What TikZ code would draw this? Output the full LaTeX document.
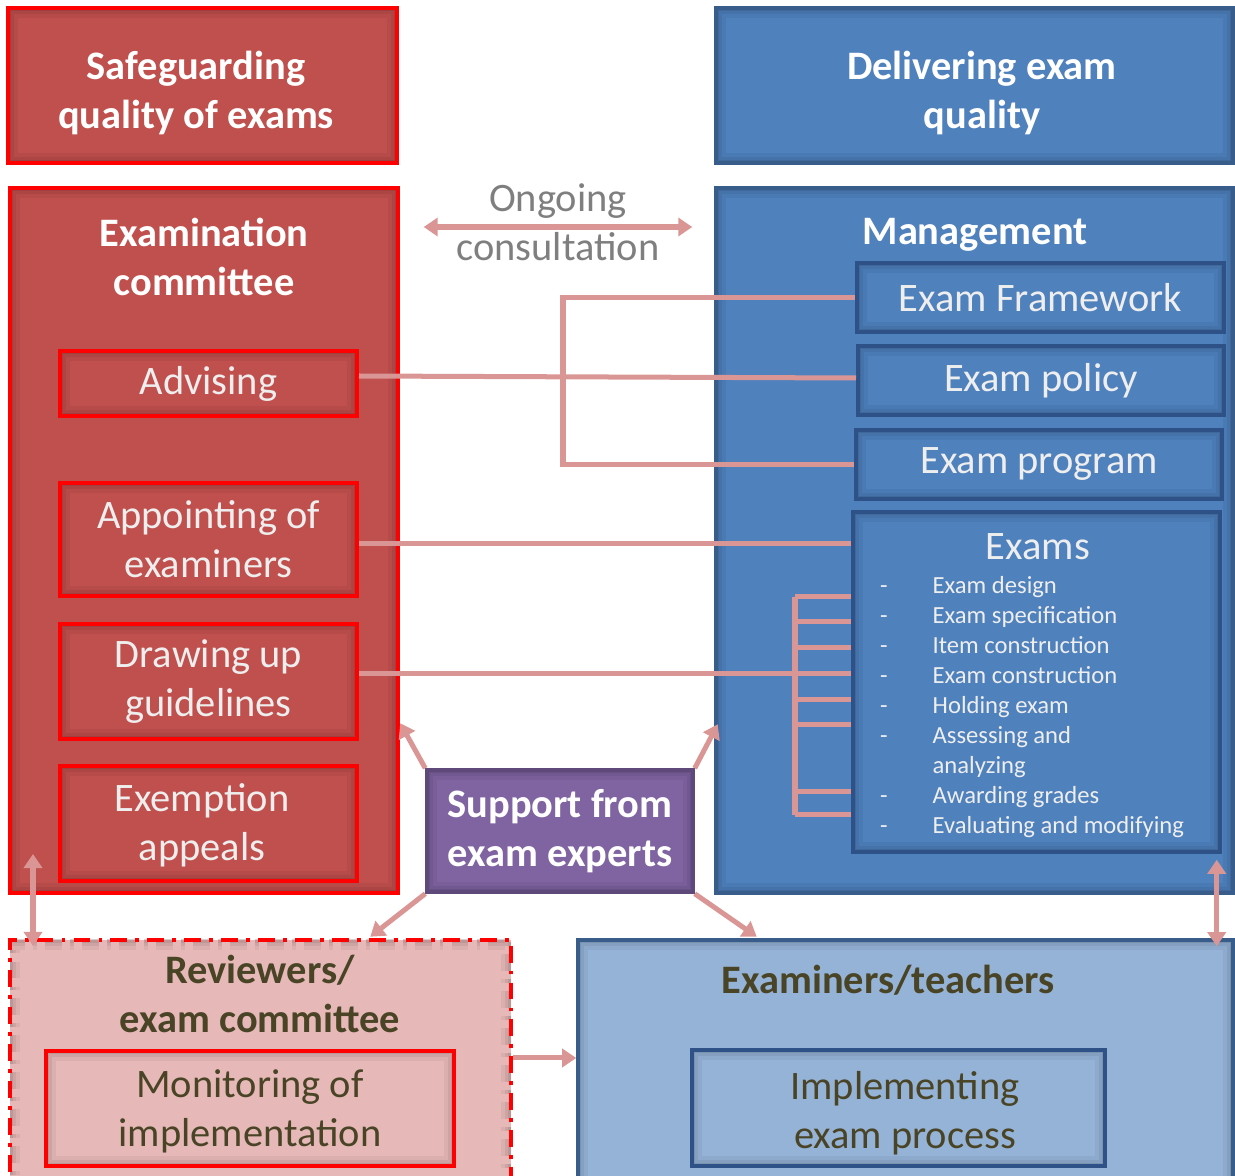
\documentclass[tikz,border=0pt]{standalone}
\usepackage{fontspec}
\setmainfont{Carlito}
\usetikzlibrary{arrows.meta}
\definecolor{redfill}{HTML}{C0504D}
\definecolor{redline}{HTML}{FF0000}
\definecolor{bluefill}{HTML}{4F81BD}
\definecolor{blueline}{HTML}{385D8A}
\definecolor{subline}{HTML}{2E5288}
\definecolor{purplefill}{HTML}{8064A2}
\definecolor{purpleline}{HTML}{5F497A}
\definecolor{pinkfill}{HTML}{E6B9B8}
\definecolor{lightblue}{HTML}{95B3D7}
\definecolor{linkc}{HTML}{D99694}
\definecolor{greytext}{HTML}{7F7F7F}
\definecolor{darktext}{HTML}{4A4426}
\definecolor{softwhite}{HTML}{EEEEEE}
\tikzset{
	wh/.style 2 args={minimum width=#1*0.01cm, minimum height=#2*0.01cm},
	glow/.style={path picture={
		\draw[black, opacity=.05, line width=0.2cm] (path picture bounding box.south west) rectangle (path picture bounding box.north east);
		\draw[black, opacity=.06, line width=0.12cm] (path picture bounding box.south west) rectangle (path picture bounding box.north east);
		\draw[black, opacity=.08, line width=0.06cm] (path picture bounding box.south west) rectangle (path picture bounding box.north east);}},
	box/.style={draw, rectangle, glow, inner sep=0pt, align=center, font=\fontsize{11.5}{14}\selectfont},
	redbox/.style={box, fill=redfill, draw=redline, line width=0.04cm},
	bluebox/.style={box, fill=bluefill, draw=blueline, line width=0.035cm},
	subblue/.style={box, fill=bluefill, draw=subline, line width=0.04cm, text=softwhite},
	subred/.style={redbox, text=softwhite},
	title/.style={align=center, inner sep=0pt, text=white, font=\fontsize{11.5}{14}\selectfont\bfseries},
	plain/.style={align=center, inner sep=0pt, font=\fontsize{11.5}{14}\selectfont},
	item/.style={inner sep=0pt, text=softwhite, font=\fontsize{7}{8.5}\selectfont},
	conn/.style={draw=linkc, line width=0.05cm},
	arr/.style={conn, -{Triangle[width=0.18cm,length=0.14cm]}},
	dbl/.style={conn, {Triangle[width=0.18cm,length=0.14cm]}-{Triangle[width=0.18cm,length=0.14cm]}}
}
\begin{document}
\begin{tikzpicture}[x=0.01cm, y=-0.01cm]
	\useasboundingbox (0,0) rectangle (1235,1176);
	\node[redbox, wh={389}{155}] (safe) at (202.5,85.5) {};
	\node[bluebox, wh={517}{155}] (deliver) at (974.5,85.5) {};
	\node[title] (safeT) at (196,93) {Safeguarding\\quality of exams};
	\node[title] (deliverT) at (982,93) {Delivering exam\\quality};
	\node[redbox, wh={388}{705}] (excom) at (204,540.5) {};
	\node[bluebox, wh={517}{705}] (mgmt) at (974.5,540.5) {};
	\node[title] (excomT) at (204,257) {Examination\\committee};
	\node[title] (mgmtT) at (975,235) {Management};
	\node[subred, wh={297}{65}] (advising) at (208.5,383.5) {Advising};
	\node[subred, wh={297}{113}] (appoint) at (208.5,539.5) {Appointing of\\examiners};
	\node[subred, wh={297}{115}] (drawing) at (208.5,681.5) {Drawing up\\guidelines};
	\node[subred, wh={297}{115}] (exemption) at (208.5,823.5) {};
	\node[plain, text=softwhite] (exemptionT) at (202,825) {Exemption\\appeals};
	\node[subblue, wh={367}{69}] (framework) at (1040.5,297.5) {Exam Framework};
	\node[subblue, wh={366}{69}] (policy) at (1041,380.5) {Exam policy};
	\node[subblue, wh={366}{69}] (program) at (1039,464.5) {Exam program};
	\node[subblue, wh={367}{340}] (exams) at (1036.5,682) {};
	\node[plain, text=softwhite] (examsT) at (1038,547) {Exams};
	\foreach \d/\t [count=\i] in {-/Exam design, -/Exam specification, -/Item construction, -/Exam construction, -/Holding exam, -/Assessing and, /analyzing, -/Awarding grades, -/Evaluating and modifying}{
		\node[item, anchor=base west] (it\i) at (932,564+30*\i) {\t};
		\node[item, anchor=base] (d\i) at (884,564+30*\i) {\d};
	}
	\node[box, fill=purplefill, draw=purpleline, line width=0.035cm, wh={266}{122}, text=white, font=\fontsize{11.5}{14}\selectfont\bfseries] (support) at (560,831) {Support from\\exam experts};
	\node[box, fill=pinkfill, draw=redline, line width=0.04cm, dash pattern=on 4.8pt off 2.3pt on 1.1pt off 2.3pt, wh={501}{260}] (reviewers) at (260.5,1070) {};
	\node[box, fill=lightblue, draw=blueline, line width=0.035cm, wh={655}{260}] (examiners) at (905.5,1070) {};
	\node[title, text=darktext] (revT) at (260,994) {Reviewers/\\exam committee};
	\node[title, text=darktext] (exrT) at (888,980) {Examiners/teachers};
	\node[box, fill=pinkfill, draw=redline, line width=0.04cm, wh={408}{115}] (monitoring) at (250,1108.5) {};
	\node[plain, text=darktext] (monitoringT) at (250,1111) {Monitoring of\\implementation};
	\node[box, fill=lightblue, draw=subline, line width=0.04cm, wh={413}{116}] (implementing) at (898.5,1108) {};
	\node[plain, text=darktext] (implementingT) at (905,1113) {Implementing\\exam process};
	\node[plain, text=greytext, minimum width=2.67cm] (consult) at (558,222) {Ongoing\\consultation};
	\draw[dbl] ([yshift=-0.05cm]consult.west) -- ([yshift=-0.05cm]consult.east);
	\coordinate (fx) at (563,0);
	\draw[conn] (framework.west) -- (framework.west -| fx) |- (program.west);
	\draw[conn] (advising.east |- 0,376) -- (policy.west |- 0,378);
	\draw[conn] (appoint.east |- 0,544) -- (exams.west |- 0,544);
	\coordinate (br) at (795,674);
	\coordinate (bt) at (795,597);
	\coordinate (bb) at (795,815);
	\draw[conn] (drawing.east |- br) -- (br);
	\draw[conn] (bt) -- (bb);
	\foreach \y in {597,622,648,674,700,725,792,815}
		\draw[conn] (795,\y) -- (exams.west |- 0,\y);
	\draw[arr] (support.north west) -- ++(-25,-45);
	\draw[arr] (support.north east) -- ++(23,-44);
	\draw[arr] (support.south west) -- ++(-55,43);
	\draw[arr] (support.south east) -- ++(62,43);
	\draw[dbl] ([shift={(25,-41)}]excom.south west) -- ([shift={(25,8)}]reviewers.north west);
	\draw[dbl] ([shift={(-18,-35)}]mgmt.south east) -- ([shift={(-18,8)}]examiners.north east);
	\draw[arr] (reviewers.east |- 0,1058) -- (examiners.west |- 0,1058);
\end{tikzpicture}
\end{document}
